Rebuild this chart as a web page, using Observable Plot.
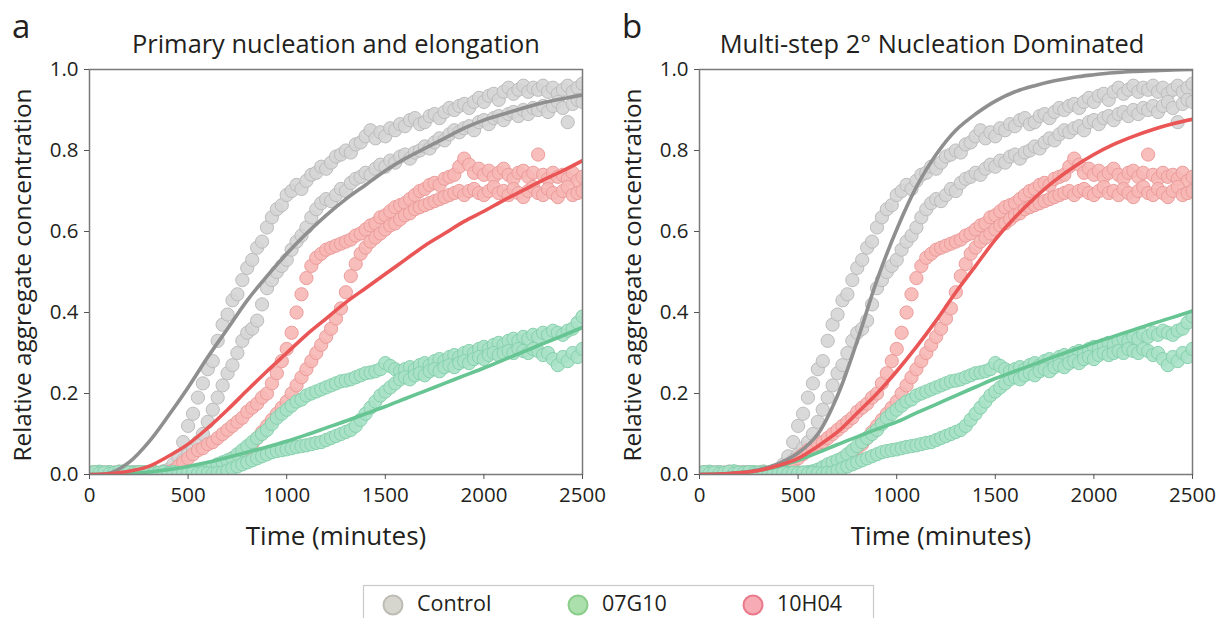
<!DOCTYPE html>
<html><head><meta charset="utf-8">
<script src="https://cdn.jsdelivr.net/npm/d3@7"></script>
<script src="https://cdn.jsdelivr.net/npm/@observablehq/plot@0.6"></script>
<style>
body{margin:0;background:#fff;}
#wrap{position:relative;width:1220px;height:618px;overflow:hidden;background:#fff;font-family:"Open Sans",sans-serif;}
.panel{position:absolute;top:0;}
#overlay{position:absolute;left:0;top:0;pointer-events:none;}
#overlay text{font-family:"Open Sans",sans-serif;fill:#231f20;}
</style></head><body>
<div id="wrap">
  <div id="pa" class="panel" style="left:0px"></div>
  <div id="pb" class="panel" style="left:610px"></div>
  <svg id="overlay" width="1220" height="618"></svg>
</div>
<script>
// ---------- data ----------
const minutes = [0,25,50,75,100,125,150,175,200,225,250,275,300,325,350,375,400,425,450,475,
  500,525,550,575,600,625,650,675,700,725,750,775,800,825,850,875,900,925,950,975,
  1000,1025,1050,1075,1100,1125,1150,1175,1200,1225,1250,1275,1300,1325,1350,1375,1400,1425,1450,1475,
  1500,1525,1550,1575,1600,1625,1650,1675,1700,1725,1750,1775,1800,1825,1850,1875,1900,1925,1950,1975,
  2000,2025,2050,2075,2100,2125,2150,2175,2200,2225,2250,2275,2300,2325,2350,2375,2400,2425,2450,2475,2500];

const controlRep1 = [0.004,0.002,0.006,0.001,0.003,0.005,0.000,0.004,0.002,0.006,
  0.003,0.001,0.005,0.002,0.004,0.008,0.012,0.025,0.045,0.080,
  0.120,0.150,0.190,0.225,0.260,0.280,0.330,0.370,0.395,0.430,
  0.445,0.480,0.510,0.530,0.560,0.575,0.610,0.635,0.655,0.665,
  0.690,0.700,0.715,0.705,0.725,0.740,0.745,0.760,0.755,0.770,
  0.785,0.790,0.800,0.795,0.815,0.820,0.835,0.850,0.830,0.845,
  0.835,0.855,0.850,0.865,0.860,0.875,0.880,0.865,0.870,0.885,
  0.890,0.880,0.895,0.905,0.900,0.910,0.915,0.905,0.920,0.930,
  0.920,0.935,0.940,0.925,0.945,0.955,0.940,0.950,0.960,0.945,
  0.955,0.950,0.960,0.945,0.955,0.940,0.950,0.960,0.945,0.955,0.965];
const controlRep2 = [0.002,0.005,0.001,0.004,0.006,0.002,0.003,0.000,0.005,0.003,
  0.006,0.002,0.004,0.001,0.003,0.005,0.006,0.010,0.020,0.035,
  0.050,0.065,0.080,0.100,0.130,0.160,0.190,0.220,0.250,0.270,
  0.300,0.330,0.350,0.360,0.380,0.420,0.460,0.480,0.500,0.515,
  0.530,0.555,0.575,0.590,0.610,0.635,0.655,0.670,0.680,0.675,
  0.690,0.705,0.700,0.720,0.730,0.735,0.745,0.740,0.755,0.765,
  0.760,0.775,0.770,0.785,0.790,0.780,0.795,0.800,0.810,0.805,
  0.820,0.830,0.825,0.840,0.850,0.845,0.855,0.860,0.850,0.870,
  0.875,0.865,0.880,0.885,0.875,0.890,0.895,0.885,0.900,0.890,
  0.905,0.900,0.910,0.895,0.910,0.920,0.905,0.870,0.915,0.925,0.920];
const h04Rep1 = [0.003,0.006,0.002,0.005,0.001,0.004,0.007,0.002,0.005,0.003,
  0.006,0.002,0.004,0.007,0.003,0.005,0.005,0.010,0.020,0.030,
  0.040,0.050,0.060,0.065,0.075,0.080,0.090,0.100,0.110,0.120,
  0.130,0.140,0.155,0.165,0.175,0.190,0.200,0.225,0.250,0.280,
  0.310,0.350,0.400,0.445,0.485,0.515,0.535,0.545,0.555,0.560,
  0.565,0.570,0.575,0.580,0.590,0.595,0.605,0.615,0.620,0.635,
  0.640,0.650,0.660,0.665,0.670,0.680,0.690,0.700,0.705,0.715,
  0.720,0.715,0.730,0.735,0.740,0.760,0.780,0.765,0.745,0.755,
  0.740,0.750,0.735,0.745,0.755,0.740,0.730,0.745,0.750,0.735,
  0.745,0.790,0.740,0.730,0.745,0.735,0.740,0.730,0.745,0.725,0.735];
const h04Rep2 = [0.001,0.004,0.006,0.002,0.005,0.003,0.001,0.006,0.003,0.004,
  0.002,0.005,0.003,0.006,0.002,0.004,0.001,0.005,0.003,0.002,
  0.004,0.002,0.003,0.005,0.010,0.015,0.020,0.025,0.030,0.040,
  0.045,0.055,0.065,0.075,0.090,0.105,0.120,0.135,0.150,0.165,
  0.180,0.200,0.220,0.240,0.260,0.280,0.300,0.320,0.340,0.360,
  0.385,0.410,0.450,0.490,0.520,0.545,0.560,0.575,0.585,0.595,
  0.605,0.615,0.620,0.630,0.640,0.645,0.655,0.660,0.665,0.670,
  0.675,0.680,0.685,0.690,0.695,0.700,0.690,0.700,0.705,0.695,
  0.690,0.700,0.710,0.695,0.700,0.690,0.705,0.695,0.685,0.700,
  0.710,0.695,0.690,0.705,0.695,0.685,0.700,0.710,0.690,0.695,0.700];
const g10Rep1 = [0.005,0.002,0.007,0.003,0.006,0.001,0.004,0.008,0.003,0.005,
  0.002,0.006,0.004,0.007,0.003,0.005,0.002,0.006,0.004,0.003,
  0.005,0.004,0.006,0.008,0.012,0.018,0.025,0.030,0.035,0.040,
  0.050,0.060,0.070,0.080,0.090,0.100,0.110,0.125,0.140,0.150,
  0.160,0.170,0.180,0.185,0.195,0.200,0.205,0.210,0.215,0.220,
  0.225,0.230,0.232,0.235,0.240,0.245,0.250,0.252,0.255,0.260,
  0.275,0.268,0.260,0.255,0.260,0.265,0.260,0.270,0.275,0.270,
  0.280,0.285,0.280,0.290,0.295,0.290,0.300,0.305,0.300,0.310,
  0.315,0.310,0.320,0.325,0.320,0.330,0.335,0.330,0.340,0.335,
  0.345,0.340,0.350,0.345,0.355,0.350,0.345,0.355,0.360,0.375,0.390];
const g10Rep2 = [0.003,0.006,0.002,0.005,0.001,0.004,0.007,0.002,0.005,0.003,
  0.006,0.003,0.005,0.002,0.004,0.006,0.003,0.005,0.002,0.004,
  0.003,0.005,0.002,0.004,0.003,0.002,0.004,0.005,0.010,0.015,
  0.020,0.025,0.030,0.035,0.040,0.045,0.050,0.055,0.058,0.060,
  0.062,0.065,0.068,0.070,0.072,0.075,0.078,0.080,0.085,0.090,
  0.095,0.100,0.105,0.110,0.120,0.135,0.150,0.165,0.180,0.195,
  0.205,0.215,0.225,0.235,0.240,0.235,0.245,0.250,0.245,0.255,
  0.260,0.255,0.265,0.270,0.265,0.275,0.280,0.275,0.285,0.290,
  0.285,0.295,0.300,0.295,0.300,0.305,0.300,0.310,0.305,0.300,
  0.310,0.305,0.295,0.300,0.285,0.270,0.290,0.280,0.300,0.290,0.310];

// fitted curves, sampled every 100 minutes
const fitMinutes = [0,100,200,300,400,500,600,700,800,900,1000,1100,1200,1300,1400,1500,1600,1700,1800,1900,2000,2100,2200,2300,2400,2500];
const fitControlA = [0,0.003,0.03,0.08,0.145,0.215,0.29,0.36,0.43,0.49,0.545,0.595,0.64,0.68,0.715,0.75,0.78,0.805,0.83,0.855,0.875,0.89,0.905,0.918,0.928,0.937];
const fitH04A = [0,0.002,0.008,0.02,0.045,0.075,0.115,0.16,0.208,0.255,0.3,0.345,0.385,0.425,0.46,0.495,0.53,0.565,0.595,0.625,0.65,0.677,0.702,0.727,0.75,0.775];
const fitG10A = [0,0.0005,0.002,0.006,0.012,0.02,0.03,0.042,0.055,0.068,0.082,0.098,0.115,0.132,0.15,0.168,0.187,0.206,0.225,0.244,0.263,0.283,0.303,0.323,0.343,0.363];
const fitControlB = [0,0.001,0.004,0.012,0.027,0.053,0.1,0.195,0.33,0.48,0.605,0.71,0.79,0.85,0.89,0.922,0.945,0.96,0.972,0.981,0.987,0.992,0.995,0.997,0.999,1.0];
const fitH04B = [0,0.001,0.004,0.01,0.022,0.04,0.07,0.105,0.152,0.2,0.255,0.315,0.38,0.45,0.515,0.58,0.635,0.683,0.725,0.76,0.79,0.815,0.835,0.852,0.866,0.877];
const fitG10B = [0,0.001,0.004,0.01,0.02,0.035,0.054,0.074,0.093,0.112,0.13,0.152,0.173,0.195,0.216,0.237,0.255,0.273,0.291,0.308,0.325,0.341,0.357,0.373,0.388,0.404];

const xTicks = [0,500,1000,1500,2000,2500];
const yTicks = [0,0.2,0.4,0.6,0.8,1.0];
const seriesNames = ["Control","07G10","10H04"];
const panelTitles = ["Primary nucleation and elongation","Multi-step 2° Nucleation Dominated"];
const panelLetters = ["a","b"];
const xLabel = "Time (minutes)";
const yLabel = "Relative aggregate concentration";

// ---------- styling ----------
const pointStyle = {
  "Control": {fill:"#d5d5d5", stroke:"#bcbcbc"},
  "07G10":   {fill:"#a8e1c7", stroke:"#86d1ad"},
  "10H04":   {fill:"#f6b7b5", stroke:"#ec9c9a"}
};
const lineColor = {"Control":"#8f8f8f","07G10":"#66c592","10H04":"#ea5555"};
const legendStyle = {
  "Control": {fill:"#d6d6ce", stroke:"#bdbdb5"},
  "07G10":   {fill:"#abdfab", stroke:"#8acd8a"},
  "10H04":   {fill:"#f7abb4", stroke:"#e9798a"}
};

const reps = {"Control":[controlRep1,controlRep2],"10H04":[h04Rep1,h04Rep2],"07G10":[g10Rep1,g10Rep2]};
function pointRows(name){
  return reps[name].flatMap(vals => vals.map((v,i)=>({t:minutes[i], v})));
}
function fitRows(arr){ return fitMinutes.map((t,i)=>({t, v:arr[i]})); }

function panel(fits){
  const marks = [];
  for (const name of ["Control","10H04","07G10"]) {
    marks.push(Plot.dot(pointRows(name), {x:"t", y:"v", r:6.6, fill:pointStyle[name].fill, fillOpacity:0.9,
      stroke:pointStyle[name].stroke, strokeWidth:1, clip:true}));
  }
  for (const name of ["07G10","Control","10H04"]) {
    marks.push(Plot.line(fitRows(fits[name]), {x:"t", y:"v", stroke:lineColor[name], strokeWidth:3.6,
      curve:"catmull-rom", clip:true}));
  }
  marks.push(Plot.frame({stroke:"#7a7a7a", strokeWidth:1.5}));
  marks.push(Plot.axisX({ticks:xTicks, tickFormat:d=>String(d), tickSize:5, tickPadding:8, label:null,
    fontSize:20.5, stroke:"#555"}));
  marks.push(Plot.axisY({ticks:yTicks, tickFormat:d3.format(".1f"), tickSize:5, tickPadding:6, label:null,
    fontSize:20.5, stroke:"#555"}));
  return Plot.plot({
    width:610, height:560,
    marginLeft:89, marginRight:28, marginTop:69, marginBottom:86,
    x:{domain:[0,2500]}, y:{domain:[0,1]},
    style:{fontFamily:'"Open Sans", sans-serif', color:"#231f20", background:"transparent", overflow:"visible"},
    marks
  });
}

document.getElementById("pa").appendChild(panel({"Control":fitControlA,"10H04":fitH04A,"07G10":fitG10A}));
document.getElementById("pb").appendChild(panel({"Control":fitControlB,"10H04":fitH04B,"07G10":fitG10B}));

// ---------- texts and legend ----------
const ov = d3.select("#overlay");
const offsets = [0,610];
const titleCenters = [336,932];
const xLabelCenters = [336,941];
offsets.forEach((ox,k)=>{
  ov.append("text").attr("x",ox+12).attr("y",38).attr("font-size",33).text(panelLetters[k]);
  ov.append("text").attr("x",titleCenters[k]).attr("y",53).attr("text-anchor","middle").attr("font-size",25.4).text(panelTitles[k]);
  ov.append("text").attr("x",xLabelCenters[k]).attr("y",545).attr("text-anchor","middle").attr("font-size",26).text(xLabel);
  ov.append("text").attr("transform",`translate(${ox+31},${275}) rotate(-90)`).attr("text-anchor","middle").attr("font-size",24.4).text(yLabel);
});
ov.append("rect").attr("x",363.5).attr("y",585.5).attr("width",510).attr("height",60)
  .attr("fill","#fff").attr("stroke","#c9c9c9").attr("stroke-width",1.2);
const legX = [393,578,753];
seriesNames.forEach((name,i)=>{
  ov.append("circle").attr("cx",legX[i]).attr("cy",605).attr("r",9.5)
    .attr("fill",legendStyle[name].fill).attr("stroke",legendStyle[name].stroke).attr("stroke-width",2);
  ov.append("text").attr("x",legX[i]+24).attr("y",611).attr("font-size",21.5).text(name);
});
</script>
</body></html>
